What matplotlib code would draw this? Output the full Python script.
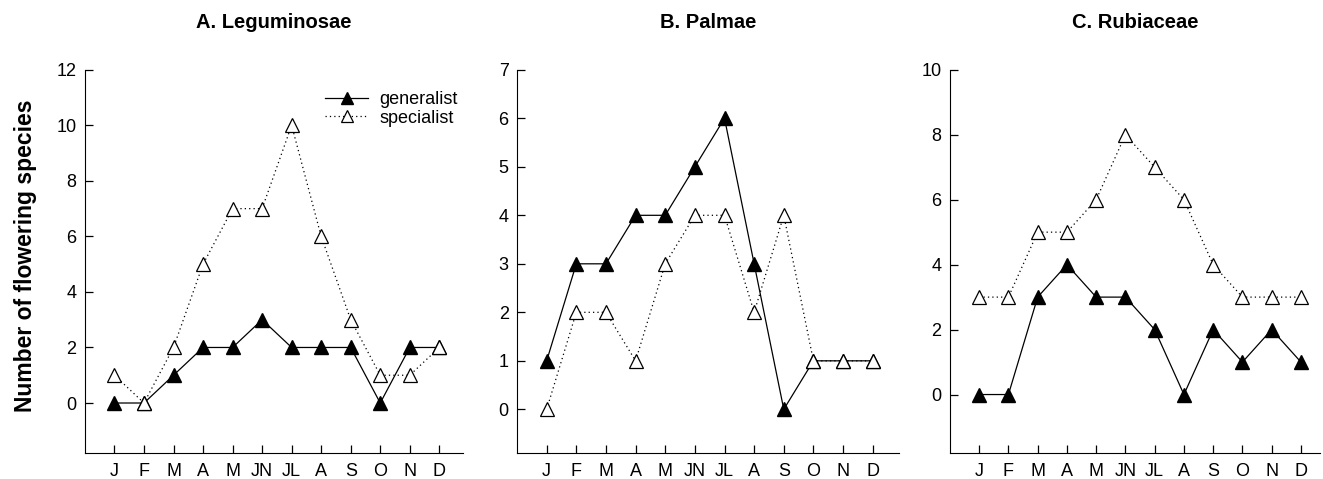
import matplotlib
matplotlib.use("Agg")
import matplotlib.pyplot as plt

plt.rcParams['font.family'] = ['Liberation Sans', 'DejaVu Sans']

months = ["J", "F", "M", "A", "M", "JN", "JL", "A", "S", "O", "N", "D"]
x = list(range(1, 13))

# A. Leguminosae
leg_generalist = [0, 0, 1, 2, 2, 3, 2, 2, 2, 0, 2, 2]
leg_specialist = [1, 0, 2, 5, 7, 7, 10, 6, 3, 1, 1, 2]
# B. Palmae
pal_generalist = [1, 3, 3, 4, 4, 5, 6, 3, 0, 1, 1, 1]
pal_specialist = [0, 2, 2, 1, 3, 4, 4, 2, 4, 1, 1, 1]
# C. Rubiaceae
rub_generalist = [0, 0, 3, 4, 3, 3, 2, 0, 2, 1, 2, 1]
rub_specialist = [3, 3, 5, 5, 6, 8, 7, 6, 4, 3, 3, 3]

titles = ["A. Leguminosae", "B. Palmae", "C. Rubiaceae"]
gens = [leg_generalist, pal_generalist, rub_generalist]
specs = [leg_specialist, pal_specialist, rub_specialist]
yticks = [range(0, 13, 2), range(0, 8), range(0, 11, 2)]
ylims = [(-1.8, 12), (-0.9, 7), (-1.8, 10)]

# axes boxes in figure fractions (left, bottom, width, height)
boxes = [
    (0.0642, 0.0543, 0.2857, 0.8),
    (0.3908, 0.0543, 0.2890, 0.8),
    (0.7180, 0.0543, 0.2797, 0.8),
]
xmaxs = [12.8, 12.9, 12.65]

fig = plt.figure(figsize=(13.23, 4.79), dpi=100)

for i in range(3):
    ax = fig.add_axes(boxes[i])
    ax.plot(x, gens[i], color="black", linestyle="-", linewidth=0.9,
            marker="^", markersize=9.5, markerfacecolor="black",
            markeredgecolor="black", label="generalist", zorder=2)
    ax.plot(x, specs[i], color="black", linestyle=(0, (1, 2.5)), linewidth=0.9,
            marker="^", markersize=9.5, markerfacecolor="white",
            markeredgecolor="black", markeredgewidth=0.9,
            label="specialist", zorder=3)
    ax.set_xlim(0, xmaxs[i])
    ax.set_ylim(*ylims[i])
    ax.set_xticks(x)
    ax.set_xticklabels(months)
    ax.set_yticks(list(yticks[i]))
    ax.spines["top"].set_visible(False)
    ax.spines["right"].set_visible(False)
    ax.spines["left"].set_bounds(ylims[i][0], ylims[i][1])
    ax.tick_params(axis="both", direction="in", length=6, width=0.9,
                   labelsize=13)
    ax.tick_params(axis="x", pad=7)
    ax.tick_params(axis="y", pad=6)
    ax.set_title(titles[i], fontsize=14.5, fontweight="bold", pad=30)
    if i == 0:
        ax.set_ylabel("Number of flowering species", fontsize=16.5,
                      fontweight="bold", labelpad=14)
        ax.yaxis.label.set_y(0.514)
        ax.legend(loc="upper left", bbox_to_anchor=(0.635, 0.945),
                  frameon=False, fontsize=13, handlelength=2.4,
                  handletextpad=0.6, labelspacing=0.1, borderpad=0,
                  borderaxespad=0, markerscale=0.9)

fig.savefig("out.png", dpi=100)
